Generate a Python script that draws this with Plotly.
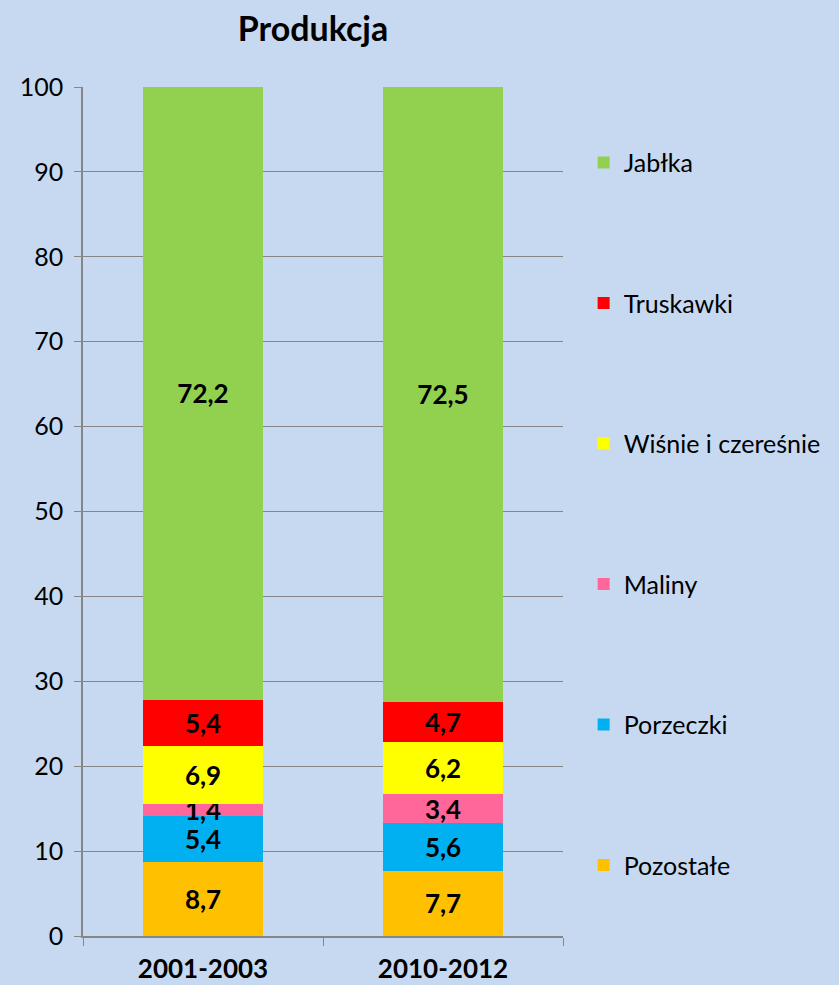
import plotly.graph_objects as go

periods = ["2001-2003", "2010-2012"]
series = ["Pozostałe", "Porzeczki", "Maliny", "Wiśnie i czereśnie", "Truskawki", "Jabłka"]
pozostale = [8.7, 7.7]
porzeczki = [5.4, 5.6]
maliny = [1.4, 3.4]
wisnie = [6.9, 6.2]
truskawki = [5.4, 4.7]
jablka = [72.2, 72.5]

values = [pozostale, porzeczki, maliny, wisnie, truskawki, jablka]
colors = ["#FFC000", "#00B0F0", "#FF6699", "#FFFF00", "#FF0000", "#92D050"]

FONT = "Lato, Open Sans, sans-serif"
BG = "#C6D9F1"

fig = go.Figure()
for i, (name, vals, col) in enumerate(zip(series, values, colors)):
    fig.add_trace(go.Bar(
        x=periods,
        y=vals,
        name=name,
        legendgroup=name,
        legendrank=1000 - i,  # top of stack first in legend
        marker=dict(color=col, line=dict(width=0)),
        texttemplate="%{y:.1f}",
        textposition="inside",
        insidetextanchor="middle",
        textangle=0,
        constraintext="none",
        textfont=dict(family=FONT, size=26, color="black", weight="bold"),
    ))

fig.update_layout(
    barmode="stack",
    bargap=0.5,
    separators=", ",
    paper_bgcolor=BG,
    plot_bgcolor=BG,
    width=839,
    height=985,
    margin=dict(l=83, r=276, t=87, b=49),
    font=dict(family=FONT, size=25, color="black"),
    title=dict(
        text="<b>Produkcja</b>",
        x=0.373, xanchor="center",
        y=0.97, yanchor="middle",
        font=dict(family=FONT, size=34, color="black"),
    ),
    legend=dict(
        x=1.043, xanchor="left",
        y=0.938, yanchor="top",
        traceorder="grouped",
        tracegroupgap=105,
        bgcolor="rgba(0,0,0,0)",
        font=dict(family=FONT, size=25, color="black"),
        itemwidth=30,
    ),
)

fig.update_xaxes(
    showline=True, linecolor="#868686", linewidth=1.5,
    ticks="outside", ticklen=8, tickcolor="#868686",
    tickson="boundaries", showgrid=False,
    automargin=False,
    ticklabelstandoff=9,
    tickfont=dict(family=FONT, size=26, color="black", weight="bold"),
)
fig.update_yaxes(
    range=[0, 100], dtick=10,
    showline=True, linecolor="#868686", linewidth=1.5,
    ticks="outside", ticklen=7, tickcolor="#868686",
    showgrid=True, gridcolor="#868686", gridwidth=1.2,
    zeroline=False,
    ticklabelstandoff=6,
    tickfont=dict(family=FONT, size=25, color="black"),
)

fig.write_html("out.html", config={"displayModeBar": False},
               post_script="document.body.style.margin='0';")
